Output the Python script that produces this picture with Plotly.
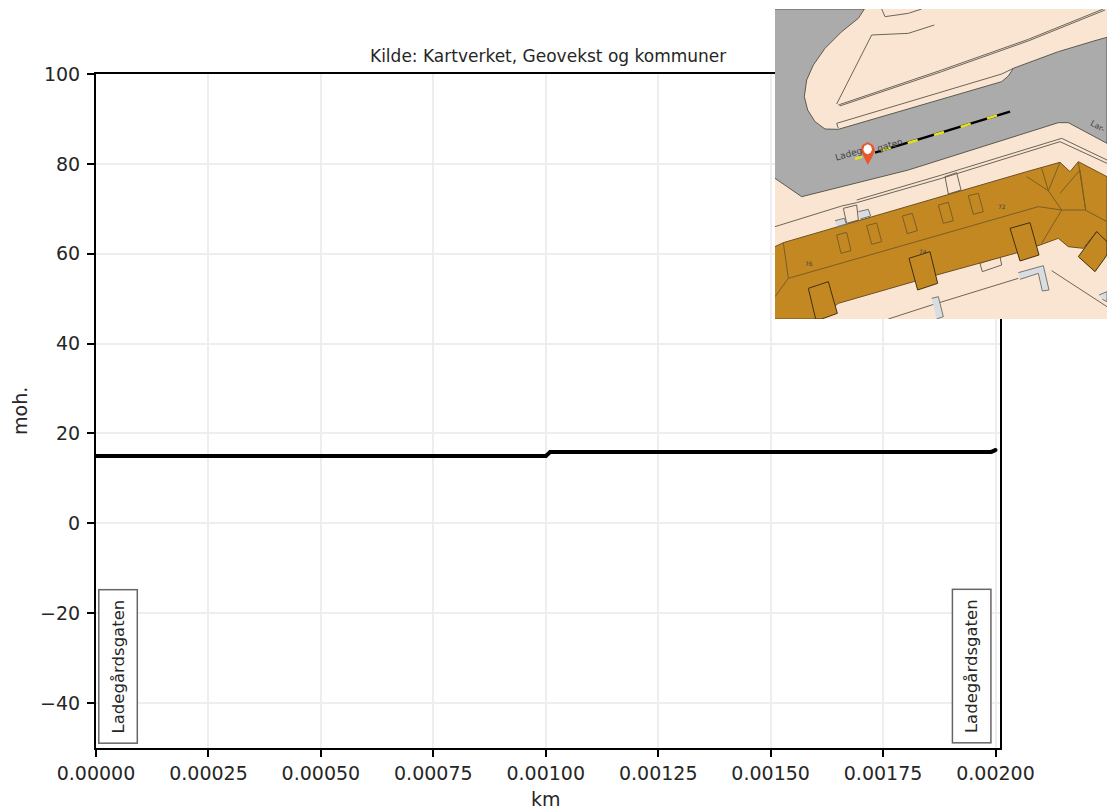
import plotly.graph_objects as go

# ---- chart data ----
distance_km = [0, 0.00025, 0.0005, 0.00075, 0.001, 0.00101, 0.00125, 0.0015, 0.00175, 0.00199, 0.002]
elevation = [15, 15, 15, 15, 15, 15.9, 15.9, 15.9, 15.9, 15.9, 16.3]
x_ticks = [0, 0.00025, 0.0005, 0.00075, 0.001, 0.00125, 0.0015, 0.00175, 0.002]
x_tick_labels = ["0.00000", "0.00025", "0.00050", "0.00075", "0.00100", "0.00125", "0.00150", "0.00175", "0.00200"]
y_ticks = [-40, -20, 0, 20, 40, 60, 80, 100]
y_tick_labels = ["\u221240", "\u221220", "0", "20", "40", "60", "80", "100"]
place_label = "Ladegårdsgaten"
place_x = [0.00005, 0.001948]
place_y = [-31.85, -31.85]

# ---- inset map shapes (map-image coordinates) ----
land = [(0, 27), (996, 27), (996, 957), (0, 957)]
road = [(0, 27), (268, 27), (250, 55), (200, 95), (150, 145), (115, 195), (95, 240), (88, 290), (98, 330), (120, 365),
        (150, 387), (190, 388), (680, 245), (700, 228), (715, 205), (850, 155), (960, 122), (996, 112),
        (996, 430), (930, 395), (880, 368), (850, 368), (400, 510), (80, 590), (0, 535)]
building = [(0, 740), (25, 728), (755, 515), (855, 487), (885, 515), (910, 485), (996, 530), (996, 745), (965, 695),
            (925, 745), (880, 740), (850, 715), (795, 735), (720, 760), (485, 825), (190, 910), (130, 957), (0, 957)]
wings = [
    [(100, 865), (160, 845), (187, 940), (140, 957), (122, 957), (100, 865)],
    [(402, 775), (465, 755), (488, 850), (428, 870), (402, 775)],
    [(705, 685), (765, 668), (792, 765), (735, 783), (705, 685)],
    [(910, 770), (965, 695), (996, 725), (996, 765), (960, 815), (910, 770)],
]
annexes = [
    [(180, 662), (208, 655), (214, 672), (186, 680)],
    [(250, 635), (280, 628), (287, 648), (256, 657)],
    [(730, 818), (805, 797), (822, 870), (802, 873), (790, 820), (735, 838)],
    [(470, 895), (490, 890), (505, 950), (485, 957)],
    [(972, 885), (996, 875), (996, 905), (982, 898)],
]
outlines = [
    [(185, 312), (290, 105), (400, 100), (478, 75)],
    [(190, 315), (500, 210), (760, 118), (985, 27)],
    [(194, 318), (500, 215), (762, 122), (990, 30)],
    [(190, 385), (185, 370), (680, 222), (715, 205)],
    [(0, 680), (200, 618), (245, 608), (500, 535), (855, 425), (996, 490)],
    [(245, 600), (500, 525), (860, 415), (996, 480)],
    [(320, 27), (330, 50), (400, 40), (440, 27)],
    [(510, 530), (545, 518), (558, 570), (520, 582), (510, 530)],
    [(205, 625), (245, 615), (250, 660), (215, 670), (205, 625)],
    [(615, 790), (675, 770), (680, 795), (622, 815), (615, 790)],
    [(340, 957), (470, 915), (730, 835)],
    [(830, 812), (996, 920)],
]
roof_lines = [
    [(40, 835), (790, 620), (860, 630), (930, 630), (996, 665)],
    [(25, 728), (40, 835), (0, 890)],
    [(755, 530), (820, 572), (860, 630), (800, 730)],
    [(855, 487), (820, 572), (800, 505)],
    [(910, 487), (932, 630), (915, 510), (855, 580)],
    [(185, 705), (215, 697), (228, 752), (198, 760), (185, 705)],
    [(275, 677), (305, 669), (320, 725), (290, 733), (275, 677)],
    [(382, 648), (412, 640), (427, 692), (397, 701), (382, 648)],
    [(490, 615), (520, 607), (535, 662), (505, 670), (490, 615)],
    [(580, 587), (610, 580), (625, 635), (595, 643), (580, 587)],
]
route_black = [(300, 458), (705, 335)]
route_yellow = [
    [(240, 477), (262, 470)], [(318, 452), (348, 443)], [(398, 429), (428, 420)],
    [(477, 405), (507, 396)], [(557, 381), (587, 371)], [(636, 356), (666, 346)],
]
pin = [(278, 495), (265, 470), (257, 450), (262, 435), (278, 426), (294, 435), (300, 450), (292, 470)]
pin_hole = [(278, 433), (288, 438), (291, 449), (286, 459), (278, 463), (270, 459), (265, 449), (268, 438)]
map_labels = [("Ladeg", 222, 463, 16, 9), ("gaten", 345, 435, 16, 9), ("Lar-", 968, 380, -30, 8),
              ("72", 681, 620, 0, 6), ("74", 444, 755, 0, 6), ("76", 101, 791, 0, 6)]

PLOT_L, PLOT_R, PLOT_T, PLOT_B = 96, 1000, 74, 748
W, H = 1107, 809
TXT = "#262626"
FONT = "DejaVu Sans"

fig = go.Figure()
fig.add_trace(go.Scatter(x=distance_km, y=elevation, mode="lines+markers", showlegend=False,
                         line=dict(color="black", width=4), marker=dict(color="black", size=4),
                         hoverinfo="skip", xaxis="x", yaxis="y"))


def poly(pts, fill=None, line=None, width=1):
    fig.add_trace(go.Scatter(
        x=[p[0] for p in pts], y=[p[1] for p in pts], xaxis="x2", yaxis="y2",
        mode="lines", showlegend=False, hoverinfo="skip",
        fill="toself" if fill else "none", fillcolor=fill,
        line=dict(color=line or "rgba(0,0,0,0)", width=width if line else 0)))


poly(land, "#FAE4D2")
poly(road, "#ABABAB", "#5A5A50", 1)
for o in outlines:
    poly(o, None, "#6B6558", 1)
poly(building, "#C38822", "#6A5020", 1)
for w_ in wings:
    poly(w_, "#C38822", "#3F3010", 1)
for r in roof_lines:
    poly(r, None, "#7A5E25", 1)
for a in annexes:
    poly(a, "#D9DCE0", "#77776F", 1)
poly(route_black, None, "black", 2.5)
for s in route_yellow:
    poly(s, None, "#E8E020", 2.5)
poly(pin, "#E8582B")
poly(pin_hole, "white")

annotations = [
    dict(x=px, y=py, xref="x", yref="y", text=place_label, textangle=-90, showarrow=False,
         font=dict(family=FONT, size=16.5, color=TXT), bgcolor="white",
         bordercolor="#666666", borderwidth=1.5, borderpad=9)
    for px, py in zip(place_x, place_y)
]
for t, mx, my, ang, sz in map_labels:
    annotations.append(dict(x=mx, y=my, xref="x2", yref="y2", text=t, textangle=-ang if ang else 0, showarrow=False,
                            font=dict(family=FONT, size=sz, color="#444444")))
annotations.append(dict(x=547.5 / W, y=1 - 56.5 / H, xref="paper", yref="paper", showarrow=False,
                        xanchor="center", yanchor="middle",
                        text="Kilde: Kartverket, Geovekst og kommuner",
                        font=dict(family=FONT, size=17, color=TXT)))
annotations.append(dict(x=546 / W, y=1 - 799 / H, xref="paper", yref="paper", showarrow=False,
                        xanchor="center", yanchor="middle",
                        text="km", font=dict(family=FONT, size=19, color=TXT)))
annotations.append(dict(x=20 / W, y=1 - 411 / H, xref="paper", yref="paper", showarrow=False, textangle=-90,
                        xanchor="center", yanchor="middle",
                        text="moh.", font=dict(family=FONT, size=19, color=TXT)))

fig.update_layout(
    width=W, height=H, autosize=False, margin=dict(l=0, r=0, t=0, b=0),
    paper_bgcolor="white", plot_bgcolor="white", showlegend=False,
    font=dict(family=FONT, size=19, color=TXT),
    annotations=annotations,
    xaxis=dict(domain=[PLOT_L / W, PLOT_R / W], range=[0, 0.00201], tickvals=x_ticks, ticktext=x_tick_labels,
               ticks="outside", ticklen=7, tickwidth=1.5, tickcolor="black", showline=True, linecolor="black",
               linewidth=2, mirror=True, showgrid=True, gridcolor="#EEEEEE", gridwidth=1.5, zeroline=False,
               tickfont=dict(size=19), anchor="y", automargin=False),
    yaxis=dict(domain=[1 - PLOT_B / H, 1 - PLOT_T / H], range=[-50, 100], tickvals=y_ticks, ticktext=y_tick_labels,
               ticks="outside", ticklen=7, tickwidth=1.5, tickcolor="black", showline=True, linecolor="black",
               linewidth=2, mirror=True, showgrid=True, gridcolor="#EEEEEE", gridwidth=1.5, zeroline=False,
               tickfont=dict(size=19), ticklabelstandoff=3, anchor="x", automargin=False),
    xaxis2=dict(domain=[775 / W, 1], range=[0, 996], visible=False, fixedrange=True, anchor="y2", automargin=False),
    yaxis2=dict(domain=[1 - 319 / H, 1 - 9 / H], range=[957, 27], visible=False, fixedrange=True, anchor="x2", automargin=False),
)

fig.write_html("out.html", config={"displayModeBar": False}, post_script="document.body.style.margin='0';")
